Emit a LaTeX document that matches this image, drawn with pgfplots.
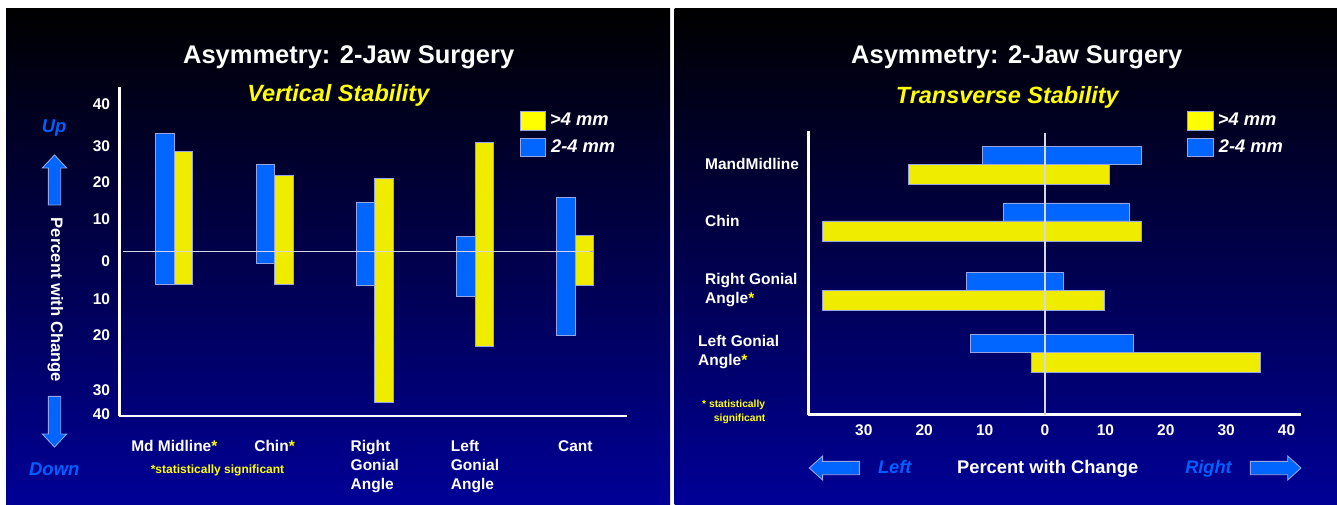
\documentclass[border=0pt]{standalone}
\usepackage{fontspec}
\setmainfont{Liberation Sans}
\usepackage{pgfplots}
\pgfplotsset{compat=1.18}
\usepackage{pgfplotstable}

\definecolor{barblue}{RGB}{0,102,255}
\definecolor{baryellow}{RGB}{240,236,0}
\definecolor{legyellow}{RGB}{255,255,0}
\definecolor{edge}{RGB}{150,165,230}
\definecolor{txtblue}{RGB}{0,95,255}
\definecolor{bgblue}{RGB}{0,0,150}
\definecolor{zline}{RGB}{215,215,230}

\newcommand\fs[2]{\fontsize{#1}{#2}\selectfont}

% vertical stability: bar from lo to hi, percent
\pgfplotstableread{
cat lo hi
0 -9.0 32.6
1 -3.2 24.0
2 -9.3 13.6
3 -12.3 4.1
4 -23.0 14.8
}\vblue
\pgfplotstableread{
cat lo hi
0 -9.0 27.5
1 -9.0 21.0
2 -41.5 20.0
3 -26.1 30.1
4 -9.3 4.3
}\vyellow

% transverse stability
\pgfplotstableread{
pos lo hi
25.04 -10.4 15.9
19.37 -6.9 14.0
12.44 -13.0 3.1
6.27 -12.4 14.6
}\tblue
\pgfplotstableread{
pos lo hi
25.04 -22.6 10.6
19.37 -36.8 15.9
12.44 -36.8 9.8
6.27 -2.2 35.6
}\tyellow

\begin{document}
\begin{tikzpicture}
\useasboundingbox (0,0) rectangle (1337pt,504pt);
\fill[white] (0,0) rectangle (1337pt,504pt);
\shade[top color=black, bottom color=bgblue] (6pt,0pt) rectangle (670pt,495pt);
\shade[top color=black, bottom color=bgblue] (674.5pt,0pt) rectangle (1337pt,495pt);

\tikzset{
  bartext/.style={font=\bfseries\fs{15.5}{18.9}, text=white},
  arrow/.style={fill=barblue, draw=edge, line width=0.9pt},
}

% ---------- left panel ----------
\node[anchor=base, text=white, font=\bfseries\fs{25.5}{30}] at (348.7pt,440.7pt) {Asymmetry: 2-Jaw Surgery};
\node[anchor=base, text=legyellow, font=\bfseries\itshape\fs{23.5}{28}] at (338.4pt,402.3pt) {Vertical Stability};

\fill[legyellow, draw=edge, line width=0.8pt] (520pt,374pt) rectangle (545.3pt,392.3pt);
\fill[barblue, draw=edge, line width=0.8pt] (520pt,348pt) rectangle (545.3pt,365.7pt);
\node[anchor=base west, inner sep=0pt, text=white, font=\bfseries\itshape\fs{18.3}{22}] at (550pt,378.1pt) {>4 mm};
\node[anchor=base west, inner sep=0pt, text=white, font=\bfseries\itshape\fs{18.3}{22}] at (551pt,351.4pt) {2-4 mm};

\node[anchor=base, text=txtblue, font=\bfseries\itshape\fs{18.5}{22}] at (54.2pt,371.7pt) {Up};
\draw[arrow] (54.5pt,349pt) -- (66.7pt,336pt) -- (60.7pt,336pt) -- (60.7pt,299pt) -- (48.3pt,299pt) -- (48.3pt,336pt) -- (42.3pt,336pt) -- cycle;
\node[rotate=-90, text=white, font=\bfseries\fs{16.6}{20}] at (55.5pt,204pt) {Percent with Change};
\draw[arrow] (54.5pt,57pt) -- (66.7pt,70pt) -- (60.7pt,70pt) -- (60.7pt,107.7pt) -- (48.3pt,107.7pt) -- (48.3pt,70pt) -- (42.3pt,70pt) -- cycle;
\node[anchor=base, text=txtblue, font=\bfseries\itshape\fs{18.5}{22}] at (54.3pt,28.7pt) {Down};
\node[anchor=base, text=legyellow, font=\bfseries\fs{12}{14}] at (217.5pt,30.5pt) {*statistically significant};

\begin{axis}[
  at={(119.3pt,88pt)}, anchor=south west,
  scale only axis, width=507.4pt, height=328.7pt,
  xmin=-0.549, xmax=4.513, ymin=-45.3, ymax=45.2,
  axis x line=bottom, axis y line=left,
  axis line style={-, draw=white, line width=2.8pt},
  major tick length=0pt,
  xtick={0,...,4},
  xticklabels={Md Midline\textcolor{legyellow}{*}, Chin\textcolor{legyellow}{*}, Right\\Gonial\\Angle, Left\\Gonial\\Angle, Cant},
  xticklabel style={bartext, align=left, anchor=north, inner sep=0pt, yshift=-24pt},
  ytick={40.55,29.06,18.95,8.95,-2.70,-13.0,-23.1,-38.2,-44.9},
  yticklabels={40,30,20,10,0,10,20,30,40},
  yticklabel style={bartext, anchor=east, inner sep=0pt, xshift=-9pt},
]
\addplot[ybar, bar width=0.185, bar shift=-0.0925, fill=barblue, draw=edge, line width=0.8pt] table[x=cat, y=hi] {\vblue};
\addplot[ybar, bar width=0.185, bar shift=-0.0925, fill=barblue, draw=edge, line width=0.8pt] table[x=cat, y=lo] {\vblue};
\addplot[ybar, bar width=0.185, bar shift=0.0925, fill=baryellow, draw=edge, line width=0.8pt] table[x=cat, y=hi] {\vyellow};
\addplot[ybar, bar width=0.185, bar shift=0.0925, fill=baryellow, draw=edge, line width=0.8pt] table[x=cat, y=lo] {\vyellow};
\draw[zline, line width=1.5pt] (axis cs:-0.509,0) -- (axis cs:4.147,0);
\end{axis}

% ---------- right panel ----------
\node[anchor=base, text=white, font=\bfseries\fs{25.5}{30}] at (1016.8pt,440.7pt) {Asymmetry: 2-Jaw Surgery};
\node[anchor=base, text=legyellow, font=\bfseries\itshape\fs{23.5}{28}] at (1007.3pt,400.7pt) {Transverse Stability};

\fill[legyellow, draw=edge, line width=0.8pt] (1187.7pt,374pt) rectangle (1213.7pt,392.3pt);
\fill[barblue, draw=edge, line width=0.8pt] (1187.7pt,348pt) rectangle (1213.7pt,365.7pt);
\node[anchor=base west, inner sep=0pt, text=white, font=\bfseries\itshape\fs{18.3}{22}] at (1217.7pt,378.1pt) {>4 mm};
\node[anchor=base west, inner sep=0pt, text=white, font=\bfseries\itshape\fs{18.3}{22}] at (1218.7pt,351.4pt) {2-4 mm};

\node[anchor=base west, inner sep=0pt, text=legyellow, font=\bfseries\fs{10.3}{12}] at (702pt,96.6pt) {* statistically};
\node[anchor=base west, inner sep=0pt, text=legyellow, font=\bfseries\fs{10.3}{12}] at (713.7pt,82.6pt) {significant};

\draw[arrow] (809.3pt,36pt) -- (822.6pt,48pt) -- (822.6pt,42.7pt) -- (859.3pt,42.7pt) -- (859.3pt,29.3pt) -- (822.6pt,29.3pt) -- (822.6pt,24pt) -- cycle;
\draw[arrow] (1301pt,36pt) -- (1287.7pt,48pt) -- (1287.7pt,42.7pt) -- (1250.3pt,42.7pt) -- (1250.3pt,29.3pt) -- (1287.7pt,29.3pt) -- (1287.7pt,24pt) -- cycle;
\node[anchor=base, text=txtblue, font=\bfseries\itshape\fs{18.2}{22}] at (894.7pt,30.3pt) {Left};
\node[anchor=base, text=white, font=\bfseries\fs{18.3}{22}] at (1047.7pt,30.3pt) {Percent with Change};
\node[anchor=base, text=txtblue, font=\bfseries\itshape\fs{18.2}{22}] at (1208.5pt,30.3pt) {Right};

\begin{axis}[
  at={(808.3pt,89.3pt)}, anchor=south west,
  scale only axis, width=492.7pt, height=284pt,
  xmin=-39.2, xmax=42.4, ymin=0, ymax=28.4,
  axis x line=bottom, axis y line=left,
  axis line style={-, draw=white, line width=2.8pt},
  major tick length=0pt,
  xtick={-30,-20,...,40},
  xticklabels={30,20,10,0,10,20,30,40},
  xticklabel style={bartext, anchor=north, inner sep=0pt, yshift=-10pt},
  ytick={25.04,19.37,12.44,6.27},
  yticklabels={MandMidline, Chin, Right Gonial\\Angle\textcolor{legyellow}{*}, \hspace*{-7pt}Left Gonial\\\hspace*{-7pt}Angle\textcolor{legyellow}{*}},
  yticklabel style={bartext, align=left, anchor=west, inner sep=0pt, xshift=-103.3pt},
]
\addplot[xbar, bar width=1.8, bar shift=0.9, fill=barblue, draw=edge, line width=0.8pt] table[x=hi, y=pos] {\tblue};
\addplot[xbar, bar width=1.8, bar shift=0.9, fill=barblue, draw=edge, line width=0.8pt] table[x=lo, y=pos] {\tblue};
\addplot[xbar, bar width=2.0, bar shift=-1.0, fill=baryellow, draw=edge, line width=0.8pt] table[x=hi, y=pos] {\tyellow};
\addplot[xbar, bar width=2.0, bar shift=-1.0, fill=baryellow, draw=edge, line width=0.8pt] table[x=lo, y=pos] {\tyellow};
\draw[zline, line width=1.2pt] (axis cs:0,0) -- (axis cs:0,28.2);
\end{axis}
\end{tikzpicture}
\end{document}
